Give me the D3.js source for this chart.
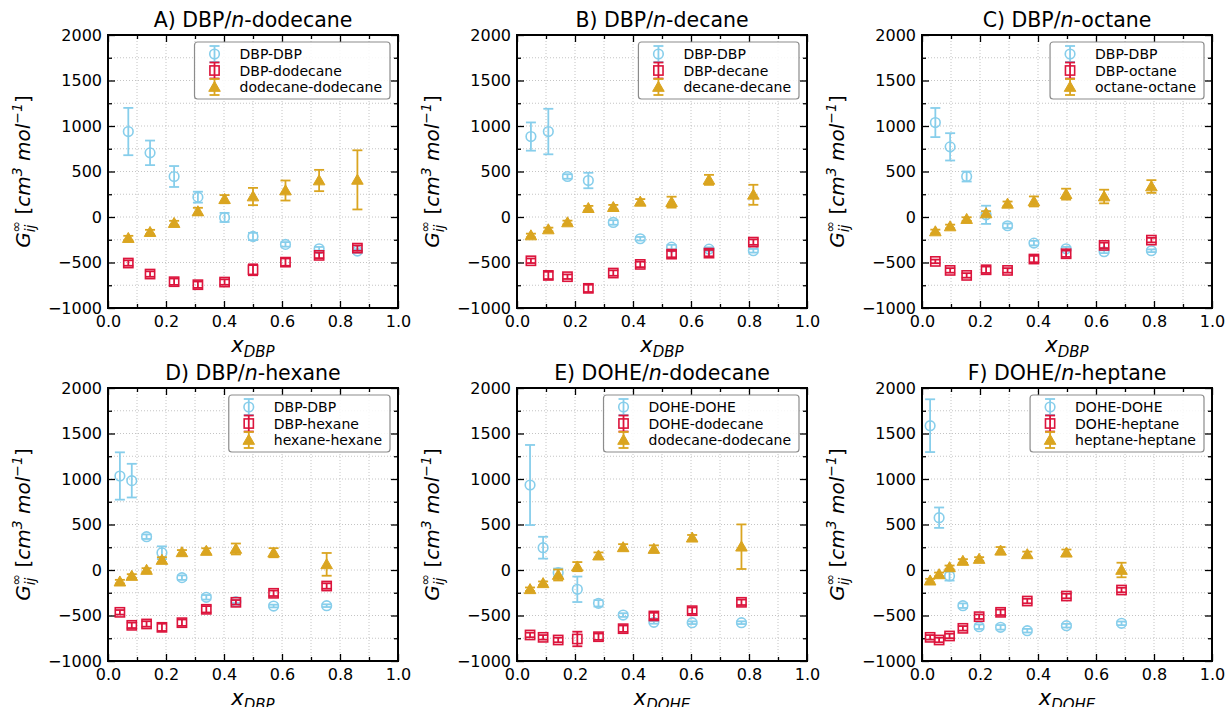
<!DOCTYPE html>
<html>
<head>
<meta charset="utf-8">
<script src="https://cdn.jsdelivr.net/npm/d3@7.9.0/dist/d3.min.js"></script>
<style>
  body { margin: 0; background: #fff; }
  svg { font-family: "DejaVu Sans", sans-serif; }
</style>
</head>
<body>
<svg id="chart" width="1226" height="707"></svg>
<script>
// ---- data (G_ij in cm3/mol, error = half bar length) ----
// A) DBP/n-dodecane
const xA = [0.070, 0.145, 0.228, 0.310, 0.402, 0.500, 0.612, 0.728, 0.860];
const selfA = [939, 705, 445, 218, -5, -214, -301, -349, -374];
const selfErrA = [260, 135, 115, 60, 50, 40, 25, 20, 20];
const crossA = [-506, -627, -711, -744, -715, -580, -496, -422, -342];
const crossErrA = [30, 30, 35, 35, 30, 60, 40, 30, 30];
const solvA = [-232, -166, -67, 61, 196, 225, 291, 401, 408];
const solvErrA = [25, 25, 25, 40, 45, 95, 110, 117, 325];

// B) DBP/n-decane
const xB = [0.048, 0.108, 0.174, 0.246, 0.332, 0.425, 0.533, 0.662, 0.815];
const selfB = [884, 939, 445, 401, -60, -239, -331, -353, -371];
const selfErrB = [155, 250, 25, 85, 25, 20, 25, 20, 20];
const crossB = [-481, -642, -656, -784, -616, -521, -408, -397, -276];
const crossErrB = [25, 40, 25, 40, 30, 30, 35, 35, 30];
const solvB = [-203, -137, -60, 97, 108, 167, 163, 408, 244];
const solvErrB = [20, 20, 20, 25, 25, 30, 60, 55, 110];

// C) DBP/n-octane
const xC = [0.046, 0.097, 0.154, 0.221, 0.295, 0.386, 0.497, 0.628, 0.791];
const selfC = [1038, 771, 445, 24, -96, -287, -349, -382, -371];
const selfErrC = [160, 150, 55, 100, 25, 25, 20, 15, 15];
const crossC = [-488, -587, -642, -580, -587, -462, -404, -312, -254];
const crossErrC = [20, 25, 25, 35, 25, 35, 35, 30, 25];
const solvC = [-159, -104, -23, 39, 145, 171, 251, 225, 335];
const solvErrC = [20, 20, 20, 25, 25, 55, 60, 75, 70];

// D) DBP/n-hexane
const xD = [0.041, 0.082, 0.133, 0.186, 0.255, 0.339, 0.441, 0.571, 0.754];
const selfD = [1033, 982, 366, 190, -84, -300, -348, -396, -392];
const selfErrD = [260, 185, 25, 70, 25, 25, 15, 15, 15];
const crossD = [-465, -608, -593, -630, -579, -432, -355, -256, -176];
const crossErrD = [25, 30, 30, 40, 35, 35, 25, 30, 30];
const solvD = [-128, -66, 0, 110, 194, 209, 231, 190, 62];
const solvErrD = [20, 20, 20, 30, 25, 30, 60, 50, 125];

// E) DOHE/n-dodecane
const xE = [0.045, 0.090, 0.142, 0.208, 0.281, 0.366, 0.472, 0.604, 0.774];
const selfE = [934, 245, -29, -212, -366, -495, -575, -579, -579];
const selfErrE = [440, 120, 45, 140, 35, 20, 15, 15, 15];
const crossE = [-714, -740, -769, -758, -733, -645, -505, -447, -355];
const crossErrE = [25, 25, 25, 80, 35, 35, 35, 35, 30];
const solvE = [-212, -146, -55, 37, 158, 249, 231, 355, 256];
const solvErrE = [20, 20, 60, 50, 35, 35, 40, 30, 245];

// F) DOHE/n-heptane
const xF = [0.028, 0.059, 0.095, 0.141, 0.197, 0.271, 0.363, 0.498, 0.688];
const selfF = [1586, 575, -66, -392, -623, -630, -667, -612, -586];
const selfErrF = [290, 112, 50, 25, 25, 25, 20, 20, 20];
const crossF = [-740, -769, -725, -641, -513, -465, -341, -286, -220];
const crossErrF = [25, 25, 25, 25, 25, 30, 25, 25, 25];
const solvF = [-117, -48, 29, 99, 121, 212, 172, 190, 0];
const solvErrF = [20, 20, 20, 20, 20, 40, 30, 35, 80];

const xTicks = [0, 0.2, 0.4, 0.6, 0.8, 1.0];
const yTicks = [-1000, -500, 0, 500, 1000, 1500, 2000];

const panels = [
  { tag: 'A', solute: 'DBP', alkane: 'dodecane', x: xA, s: [selfA, crossA, solvA], e: [selfErrA, crossErrA, solvErrA] },
  { tag: 'B', solute: 'DBP', alkane: 'decane', x: xB, s: [selfB, crossB, solvB], e: [selfErrB, crossErrB, solvErrB] },
  { tag: 'C', solute: 'DBP', alkane: 'octane', x: xC, s: [selfC, crossC, solvC], e: [selfErrC, crossErrC, solvErrC] },
  { tag: 'D', solute: 'DBP', alkane: 'hexane', x: xD, s: [selfD, crossD, solvD], e: [selfErrD, crossErrD, solvErrD] },
  { tag: 'E', solute: 'DOHE', alkane: 'dodecane', x: xE, s: [selfE, crossE, solvE], e: [selfErrE, crossErrE, solvErrE] },
  { tag: 'F', solute: 'DOHE', alkane: 'heptane', x: xF, s: [selfF, crossF, solvF], e: [selfErrF, crossErrF, solvErrF] },
];

const colors = ['#87ceeb', '#dc143c', '#daa520'];
const shapes = ['circle', 'square', 'triangle'];

const colLeft = [108, 517, 922];
const rowTop = [35, 388];
const W = 290, H = 273;

const svg = d3.select('#chart');

function drawMarker(g, shape, color, cx, cy) {
  if (shape === 'circle') {
    g.append('circle').attr('cx', cx).attr('cy', cy).attr('r', 4.8)
      .attr('fill', 'none').attr('stroke', color).attr('stroke-width', 1.6);
  } else if (shape === 'square') {
    g.append('rect').attr('x', cx - 4.6).attr('y', cy - 4.6).attr('width', 9.2).attr('height', 9.2)
      .attr('fill', 'none').attr('stroke', color).attr('stroke-width', 1.6);
  } else {
    const tri = d3.symbol().type(d3.symbolTriangle).size(58);
    g.append('path').attr('d', tri()).attr('transform', `translate(${cx},${cy + 1})`)
      .attr('fill', color).attr('stroke', color).attr('stroke-width', 1);
  }
}

function errorBar(g, color, cx, y0, y1) {
  g.append('line').attr('x1', cx).attr('x2', cx).attr('y1', y0).attr('y2', y1)
    .attr('stroke', color).attr('stroke-width', 1.8);
  [y0, y1].forEach(yy => {
    g.append('line').attr('x1', cx - 5).attr('x2', cx + 5).attr('y1', yy).attr('y2', yy)
      .attr('stroke', color).attr('stroke-width', 1.8);
  });
}

panels.forEach((p, i) => {
  const left = colLeft[i % 3], top = rowTop[Math.floor(i / 3)];
  const g = svg.append('g').attr('transform', `translate(${left},${top})`);
  const x = d3.scaleLinear().domain([0, 1]).range([0, W]);
  const y = d3.scaleLinear().domain([-1000, 2000]).range([H, 0]);

  // dotted grid on major + minor positions
  const grid = g.append('g');
  d3.range(0.1, 1.0, 0.1).forEach(v => {
    grid.append('line').attr('x1', x(v)).attr('x2', x(v)).attr('y1', 0).attr('y2', H)
      .attr('stroke', '#bdbdbd').attr('stroke-width', 0.9).attr('stroke-dasharray', '1,2');
  });
  d3.range(-750, 2000, 250).forEach(v => {
    grid.append('line').attr('x1', 0).attr('x2', W).attr('y1', y(v)).attr('y2', y(v))
      .attr('stroke', '#bdbdbd').attr('stroke-width', 0.9).attr('stroke-dasharray', '1,2');
  });

  // axes with inward ticks on all sides
  const minorX = d3.range(0.1, 1.0, 0.2);
  const minorY = d3.range(-750, 2000, 500);
  const bottom = g.append('g').attr('transform', `translate(0,${H})`)
    .call(d3.axisBottom(x).tickValues(xTicks).tickFormat(d3.format('.1f')).tickSizeInner(-7).tickSizeOuter(0).tickPadding(9));
  g.append('g')
    .call(d3.axisLeft(y).tickValues(yTicks).tickFormat(d => d < 0 ? '\u2212' + Math.abs(d) : d).tickSizeInner(-7).tickSizeOuter(0).tickPadding(6));
  g.append('g').call(d3.axisTop(x).tickValues(xTicks).tickFormat('').tickSizeInner(-7).tickSizeOuter(0));
  g.append('g').attr('transform', `translate(${W},0)`)
    .call(d3.axisRight(y).tickValues(yTicks).tickFormat('').tickSizeInner(-7).tickSizeOuter(0));
  g.append('g').attr('transform', `translate(0,${H})`).call(d3.axisBottom(x).tickValues(minorX).tickFormat('').tickSizeInner(-4).tickSizeOuter(0));
  g.append('g').call(d3.axisTop(x).tickValues(minorX).tickFormat('').tickSizeInner(-4).tickSizeOuter(0));
  g.append('g').call(d3.axisLeft(y).tickValues(minorY).tickFormat('').tickSizeInner(-4).tickSizeOuter(0));
  g.append('g').attr('transform', `translate(${W},0)`).call(d3.axisRight(y).tickValues(minorY).tickFormat('').tickSizeInner(-4).tickSizeOuter(0));
  g.selectAll('.domain').remove();
  g.selectAll('.tick line').attr('stroke', '#000').attr('stroke-width', 1.3);
  g.selectAll('.tick text').attr('font-size', 16).attr('fill', '#000').attr('font-family', '"DejaVu Sans", sans-serif');
  bottom.selectAll('.tick text').attr('dy', '0.6em');
  g.append('rect').attr('width', W).attr('height', H).attr('fill', 'none')
    .attr('stroke', '#000').attr('stroke-width', 2);

  // series
  p.s.forEach((vals, k) => {
    const sg = g.append('g');
    vals.forEach((v, j) => {
      const cx = x(p.x[j]);
      errorBar(sg, colors[k], cx, y(v + p.e[k][j]), y(v - p.e[k][j]));
      drawMarker(sg, shapes[k], colors[k], cx, y(v));
    });
  });

  // title
  const t = g.append('text').attr('x', W / 2).attr('y', -8).attr('text-anchor', 'middle')
    .attr('font-size', 20.5).attr('fill', '#000');
  t.append('tspan').text(`${p.tag}) ${p.solute}/`);
  t.append('tspan').attr('font-style', 'italic').text('n');
  t.append('tspan').text(`-${p.alkane}`);

  // x label
  const xl = g.append('text').attr('x', W / 2).attr('y', H + 44).attr('text-anchor', 'middle')
    .attr('font-size', 21).attr('font-style', 'italic').attr('fill', '#000');
  xl.append('tspan').text('x');
  xl.append('tspan').attr('font-size', 15).attr('dy', 5).text(p.solute);

  // y label
  const yl = g.append('text').attr('transform', `translate(-78,${H / 2}) rotate(-90)`)
    .attr('text-anchor', 'middle').attr('font-size', 20).attr('font-style', 'italic').attr('fill', '#000');
  yl.append('tspan').text('G');
  yl.append('tspan').attr('font-size', 14).attr('dy', 5).text('ij');
  yl.append('tspan').attr('font-size', 14).attr('dy', -14).attr('dx', -8).text('\u221e');
  yl.append('tspan').attr('dy', 9).attr('font-style', 'normal').text(' [');
  yl.append('tspan').text('cm');
  yl.append('tspan').attr('font-size', 14).attr('dy', -8).text('3');
  yl.append('tspan').attr('dy', 8).text(' mol');
  yl.append('tspan').attr('font-size', 14).attr('dy', -8).text('\u22121');
  yl.append('tspan').attr('dy', 8).attr('font-style', 'normal').text(']');

  // legend
  const names = [`${p.solute}-${p.solute}`, `${p.solute}-${p.alkane}`, `${p.alkane}-${p.alkane}`];
  const lg = g.append('g');
  const box = lg.append('rect');
  const texts = names.map(n => lg.append('text').attr('font-size', 14).attr('fill', '#000').text(n));
  const tw = d3.max(texts, tt => tt.node().getComputedTextLength());
  const bw = 45 + tw + 8, bh = 57;
  const bx = W - 8 - bw, by = 7;
  box.attr('x', bx).attr('y', by).attr('width', bw).attr('height', bh).attr('rx', 3)
    .attr('fill', 'rgba(255,255,255,0.85)').attr('stroke', '#8c8c8c').attr('stroke-width', 1.2);
  texts.forEach((tt, k) => {
    const cy = by + 12 + k * 16.5;
    tt.attr('x', bx + 45).attr('y', cy + 5);
    errorBar(lg, colors[k], bx + 20, cy - 8, cy + 8);
    drawMarker(lg, shapes[k], colors[k], bx + 20, cy);
  });
});
</script>
</body>
</html>
